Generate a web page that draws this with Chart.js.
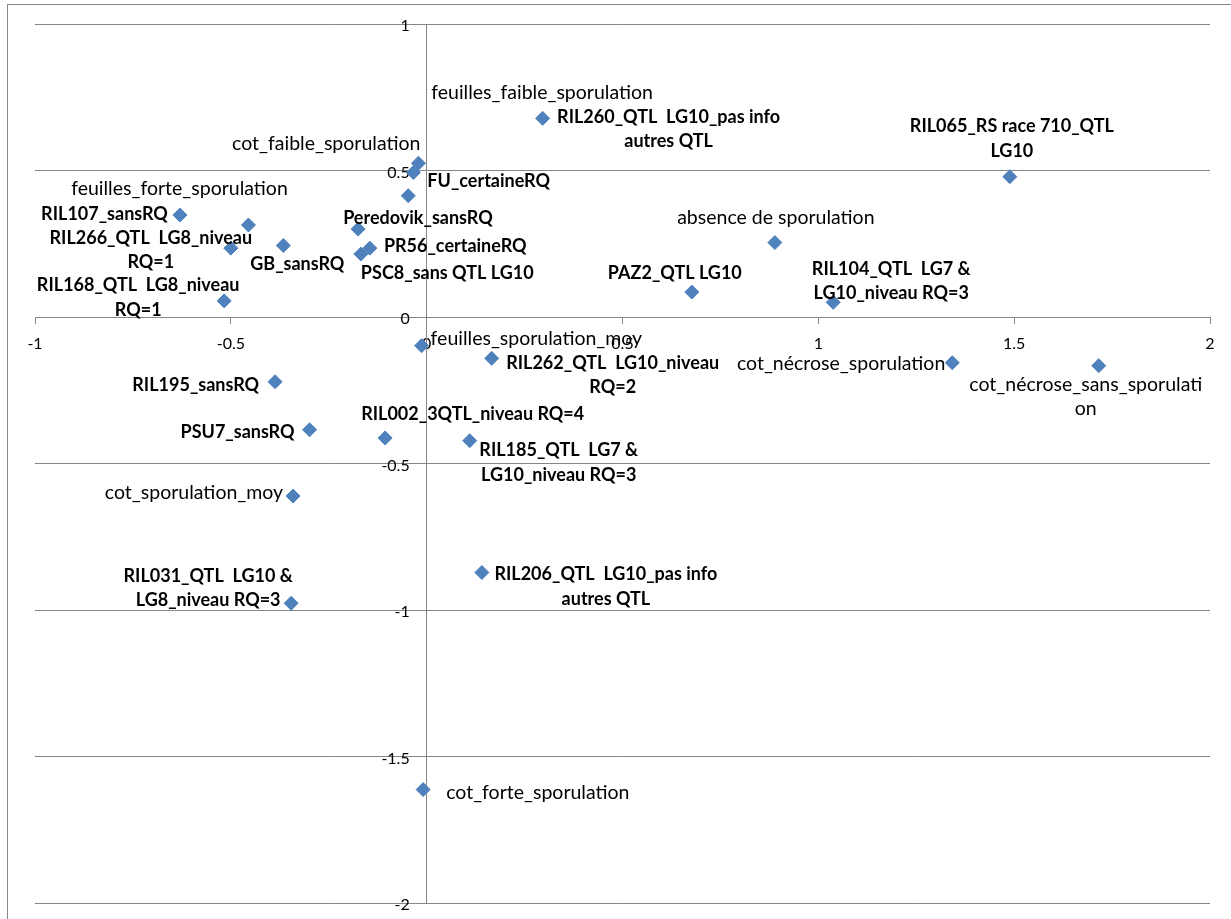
<!DOCTYPE html>
<html>
<head>
<meta charset="utf-8">
<script src="https://cdn.jsdelivr.net/npm/chart.js@4.4.1/dist/chart.umd.min.js"></script>
<style>
  html, body { margin: 0; padding: 0; background: #fff; }
  #wrap { width: 1231px; height: 919px; position: relative; }
</style>
</head>
<body>
<div id="wrap"><canvas id="graphe"></canvas></div>
<script>
// ----------------------- Genotypes (etiquettes en gras)
const genoNoms = [
  'RIL260_QTL  LG10_pas info\nautres QTL',
  'RIL065_RS race 710_QTL\nLG10',
  'FU_certaineRQ',
  'RIL107_sansRQ',
  'RIL266_QTL  LG8_niveau\nRQ=1',
  'GB_sansRQ',
  'RIL168_QTL  LG8_niveau\nRQ=1',
  'Peredovik_sansRQ',
  'PR56_certaineRQ',
  'PSC8_sans QTL LG10',
  'PAZ2_QTL LG10',
  'RIL104_QTL  LG7 &\nLG10_niveau RQ=3',
  'RIL262_QTL  LG10_niveau\nRQ=2',
  'RIL195_sansRQ',
  'PSU7_sansRQ',
  'RIL002_3QTL_niveau RQ=4',
  'RIL185_QTL  LG7 &\nLG10_niveau RQ=3',
  'RIL206_QTL  LG10_pas info\nautres QTL',
  'RIL031_QTL  LG10 &\nLG8_niveau RQ=3'
]
const genoX = [0.296, 1.489, -0.034, -0.630, -0.500, -0.366, -0.517, -0.175, -0.145, -0.168,
  0.677, 1.038, 0.166, -0.387, -0.299, -0.106, 0.110, 0.141, -0.346]
const genoY = [0.678, 0.479, 0.493, 0.348, 0.235, 0.244, 0.055, 0.300, 0.235, 0.215,
  0.085, 0.050, -0.141, -0.221, -0.385, -0.413, -0.422, -0.872, -0.977]

// ----------------------- Variables (etiquettes normales)
const varNoms = [
  'feuilles_faible_sporulation',
  'cot_faible_sporulation',
  'feuilles_forte_sporulation',
  'absence de sporulation',
  'feuilles_sporulation_moy',
  'cot_nécrose_sporulation',
  'cot_nécrose_sans_sporulati\non',
  'cot_sporulation_moy',
  'cot_forte_sporulation'
]
const varX = [-0.047, -0.021, -0.455, 0.889, -0.013, 1.342, 1.716, -0.341, -0.009]
const varY = [0.414, 0.525, 0.314, 0.254, -0.098, -0.156, -0.166, -0.611, -1.613]

// ----------------------- Graduations des axes
const xTicks = [-1, -0.5, 0, 0.5, 1, 1.5, 2]
const yTicks = [-2, -1.5, -1, -0.5, 0, 0.5, 1]

// Placement des etiquettes : [alignement, dx, dy] en pixels depuis le point
const genoPos = [
  ['center', 126, 11], ['center', 2, -38], ['left', 14, 9], ['right', -12, -1],
  ['center', -80, 2], ['center', 14, 19], ['center', -86, -3], ['left', -15, -11],
  ['left', 14, -2], ['left', 0, 19], ['center', -17, -19], ['center', 58, -21],
  ['center', 121, 17], ['right', -16, 3], ['right', -15, 2], ['left', -24, -24],
  ['center', 89, 22], ['center', 124, 14], ['center', -83, -15]
]
const varPos = [
  ['left', 23, -103], ['right', 2, -19], ['center', -69, -36], ['center', 1, -25],
  ['left', 9, -7], ['right', -7, 1], ['center', -13, 31], ['right', -10, -3],
  ['left', 23, 3]
]

const gris = '#868686'
const bleu = '#4F81BD'
const police = 'Lato, "Open Sans", sans-serif'

// ----------------------- Fond blanc et cadre du graphique
const cadre = {
  id: 'cadre',
  beforeDraw(chart) {
    const ctx = chart.ctx
    ctx.save()
    ctx.fillStyle = '#fff'
    ctx.fillRect(0, 0, chart.width, chart.height)
    ctx.strokeStyle = gris
    ctx.lineWidth = 1
    ctx.strokeRect(7.5, 4.5, chart.width + 20, chart.height + 20)
    ctx.restore()
  }
}

// ----------------------- Libelles de l'axe vertical, a gauche de l'axe x=0
const graduationsY = {
  id: 'graduationsY',
  beforeDatasetsDraw(chart) {
    const { x, y } = chart.scales
    const ctx = chart.ctx
    const x0 = x.getPixelForValue(0)
    ctx.save()
    ctx.font = '16px ' + police
    ctx.fillStyle = '#000'
    ctx.textAlign = 'right'
    ctx.textBaseline = 'middle'
    yTicks.forEach(v => ctx.fillText(String(v), x0 - 17, y.getPixelForValue(v) + 2))
    ctx.restore()
  }
}

// ----------------------- Etiquettes des points
const etiquettes = {
  id: 'etiquettes',
  afterDatasetsDraw(chart) {
    const ctx = chart.ctx
    const sources = [[genoNoms, genoPos, 'bold 18px '], [varNoms, varPos, 'normal 19.5px ']]
    sources.forEach(([noms, pos, fonte], i) => {
      const meta = chart.getDatasetMeta(i)
      meta.data.forEach((pt, j) => {
        const [align, dx, dy] = pos[j]
        const lignes = noms[j].split('\n')
        const h = 24.5
        const y0 = pt.y + dy - (lignes.length - 1) * h / 2
        ctx.save()
        ctx.font = fonte + police
        ctx.fillStyle = '#000'
        ctx.textAlign = align
        ctx.textBaseline = 'middle'
        lignes.forEach((l, k) => ctx.fillText(l, pt.x + dx, y0 + k * h))
        ctx.restore()
      })
    })
  }
}

const points = (xs, ys) => xs.map((x, i) => ({ x: x, y: ys[i] }))

const ctx = document.getElementById('graphe').getContext('2d')
const graphe = new Chart(ctx, {
  type: 'scatter',
  data: {
    datasets: [{
      label: 'genotypes',
      data: points(genoX, genoY),
      pointStyle: 'rectRot',
      pointRadius: 7,
      backgroundColor: bleu,
      borderColor: bleu,
      borderWidth: 1
    }, {
      label: 'variables',
      data: points(varX, varY),
      pointStyle: 'rectRot',
      pointRadius: 7,
      backgroundColor: bleu,
      borderColor: bleu,
      borderWidth: 1
    }]
  },
  options: {
    responsive: true,
    maintainAspectRatio: false,
    animation: false,
    events: [],
    layout: { padding: { left: 35, right: 21, top: 24, bottom: 16 } },
    plugins: {
      legend: { display: false },
      tooltip: { enabled: false }
    },
    scales: {
      x: {
        type: 'linear',
        position: { y: 0 },
        min: -1,
        max: 2,
        afterBuildTicks: axis => { axis.ticks = xTicks.map(v => ({ value: v })) },
        grid: { drawOnChartArea: false, drawTicks: true, tickLength: 6, color: gris },
        border: { display: true, color: gris, width: 1 },
        ticks: {
          color: '#000',
          font: { family: police, size: 16 },
          padding: 11,
          maxRotation: 0,
          autoSkip: false,
          callback: v => String(v)
        }
      },
      y: {
        type: 'linear',
        position: { x: 0 },
        min: -2,
        max: 1,
        afterBuildTicks: axis => { axis.ticks = yTicks.map(v => ({ value: v })) },
        grid: { drawOnChartArea: true, drawTicks: true, tickLength: 6, color: gris },
        border: { display: true, color: gris, width: 1 },
        ticks: { display: false }
      }
    }
  },
  plugins: [cadre, graduationsY, etiquettes]
})
</script>
</body>
</html>
